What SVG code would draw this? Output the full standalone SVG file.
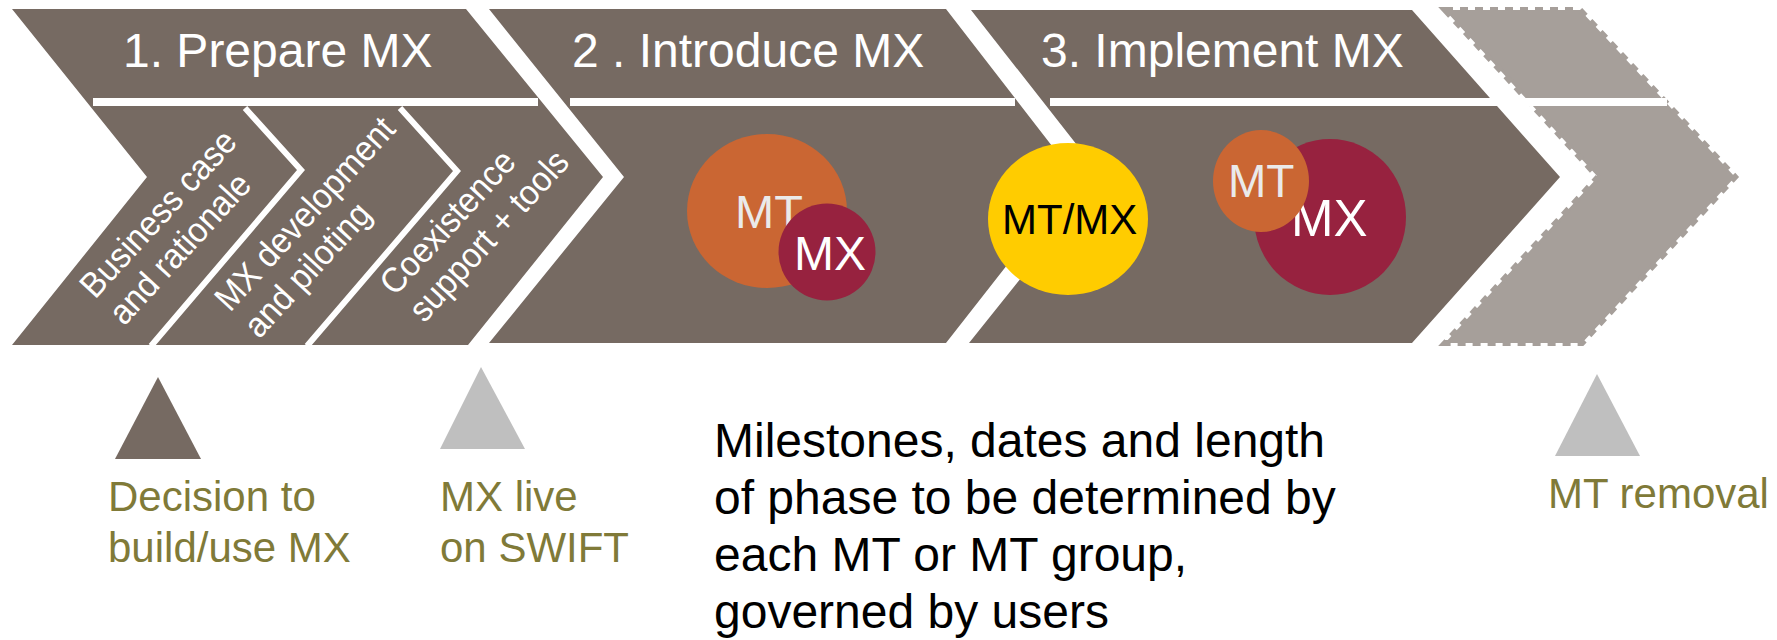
<svg xmlns="http://www.w3.org/2000/svg" width="1777" height="640" viewBox="0 0 1777 640">
<style>
.ph{fill:#766A62}
.ph4{fill:#A69F9A;stroke:#A69F9A;stroke-width:6;stroke-dasharray:8 7}
.bar{fill:#fff}
.sep{fill:none;stroke:#fff;stroke-width:6;stroke-linejoin:miter}
.f{font-family:"Liberation Sans",Arial,Helvetica,sans-serif}
.hd{font-size:48px;fill:#fff}
.rt{font-size:33px;fill:#fff}
.mt{fill:#EAEAEA}
.mx{fill:#fff}
.ms{font-size:42px;fill:#807A38}
.nt{font-size:48px;fill:#000}
.orange{fill:#CA6633}
.red{fill:#97223F}
</style>
<rect width="1777" height="640" fill="#fff"/>
<g id="phase1">
<polygon class="ph" points="12,9 466,9 603,177 468,345 12,345 147,177"/>
<rect class="bar" x="93" y="98" width="445" height="8"/>
<polyline class="sep" points="245,108 301,170 151,346"/>
<polyline class="sep" points="400,108 457,171 307,346"/>
<text class="f hd" x="123" y="67">1. Prepare MX</text>
<text class="f rt" transform="translate(95,300) rotate(-47.5) scale(1,1.07)"><tspan x="0" y="0">Business case</tspan><tspan x="0" y="37">and rationale</tspan></text>
<text class="f rt" transform="translate(230,313) rotate(-47.5) scale(1,1.07)"><tspan x="0" y="0">MX development</tspan><tspan x="0" y="37">and piloting</tspan></text>
<text class="f rt" transform="translate(395,297) rotate(-47.5) scale(1,1.07)"><tspan x="0" y="0">Coexistence</tspan><tspan x="0" y="37">support + tools</tspan></text>
</g>
<g id="phase2">
<polygon class="ph" points="489,9 946,9 1076,177 946,343 489,343 624,177"/>
<rect class="bar" x="570" y="98" width="445" height="8"/>
<text class="f hd" x="572" y="67">2 . Introduce MX</text>
<ellipse class="orange" cx="767" cy="211" rx="80" ry="77"/>
<text class="f mt" x="735" y="228" font-size="47">MT</text>
<circle class="red" cx="827" cy="252" r="48.5"/>
<text class="f mx" x="794" y="270" font-size="48">MX</text>
</g>
<g id="phase3">
<polygon class="ph" points="971,10 1412,10 1560,177 1412,343 969,343 1102,177"/>
<rect class="bar" x="1050" y="98" width="447" height="8"/>
<text class="f hd" x="1041" y="67">3. Implement MX</text>
<ellipse cx="1068" cy="219" rx="80" ry="76" fill="#FFCC00"/>
<text class="f" x="1002" y="234" font-size="42" fill="#000">MT/MX</text>
<ellipse class="red" cx="1330" cy="217" rx="76" ry="78"/>
<text class="f mx" x="1291" y="236" font-size="51">MX</text>
<ellipse class="orange" cx="1261" cy="181" rx="48" ry="51"/>
<text class="f mt" x="1228" y="197" font-size="46">MT</text>
</g>
<g id="phase4">
<polygon class="ph4" points="1445,10 1580,10 1735,177 1582,343 1445,343 1598,177"/>
<rect class="bar" x="1490" y="98" width="177" height="8"/>
</g>
<g id="connectors"></g>
<g id="milestone-decision">
<polygon points="158,377 115,459 201,459" fill="#766A62"/>
<text class="f ms" x="108" y="511">Decision to</text>
<text class="f ms" x="108" y="562">build/use MX</text>
</g>
<g id="milestone-live">
<polygon points="481,367 440,449 525,449" fill="#BFBFBF"/>
<text class="f ms" x="440" y="511">MX live</text>
<text class="f ms" x="440" y="562">on SWIFT</text>
</g>
<g id="milestone-removal">
<polygon points="1597,374 1555,456 1640,456" fill="#BFBFBF"/>
<text class="f ms" x="1548" y="508">MT removal</text>
</g>
<g id="note">
<text class="f nt" x="714" y="457">Milestones, dates and length</text>
<text class="f nt" x="714" y="514">of phase to be determined by</text>
<text class="f nt" x="714" y="571">each MT or MT group,</text>
<text class="f nt" x="714" y="628">governed by users</text>
</g>
</svg>
